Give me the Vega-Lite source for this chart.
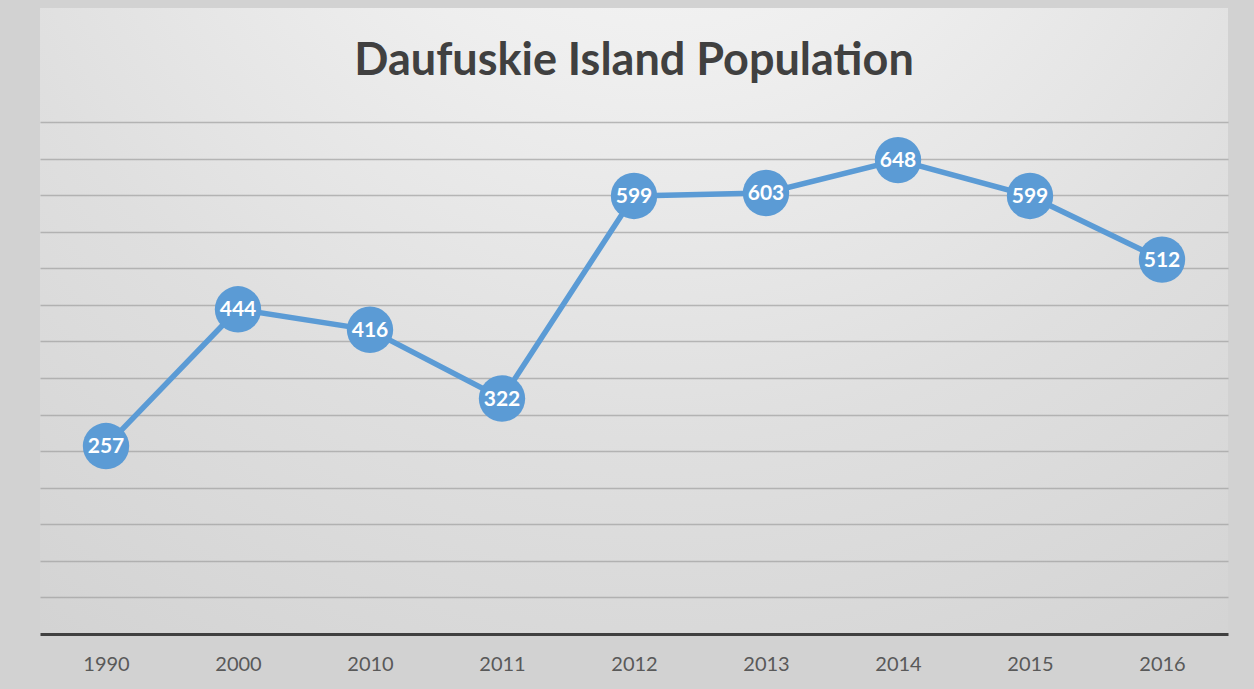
{
  "$schema": "https://vega.github.io/schema/vega-lite/v6.json",
  "width": 1188,
  "height": 626,
  "padding": {"left": 40, "top": 8, "right": 26, "bottom": 15},
  "background": "#d2d2d2",
  "view": {
    "stroke": null,
    "fill": {
      "gradient": "radial",
      "x1": 0.52, "y1": 0, "r1": 0,
      "x2": 0.52, "y2": 0, "r2": 1,
      "stops": [
        {"offset": 0, "color": "#fafafa"},
        {"offset": 0.3, "color": "#eeeeee"},
        {"offset": 0.6, "color": "#dfdfdf"},
        {"offset": 1, "color": "#d0d0d0"}
      ]
    }
  },
  "title": {
    "text": "Daufuskie Island Population",
    "frame": "group",
    "anchor": "middle",
    "orient": "top",
    "offset": -112,
    "baseline": "alphabetic",
    "font": "Lato",
    "fontSize": 45,
    "fontWeight": "bold",
    "color": "#404040"
  },
  "data": {
    "values": [
      {"year": "1990", "population": 257},
      {"year": "2000", "population": 444},
      {"year": "2010", "population": 416},
      {"year": "2011", "population": 322},
      {"year": "2012", "population": 599},
      {"year": "2013", "population": 603},
      {"year": "2014", "population": 648},
      {"year": "2015", "population": 599},
      {"year": "2016", "population": 512}
    ]
  },
  "encoding": {
    "x": {
      "field": "year",
      "type": "ordinal",
      "sort": null,
      "scale": {"type": "point", "padding": 0.5},
      "axis": {
        "title": null,
        "labelAngle": 0,
        "ticks": false,
        "grid": false,
        "domainColor": "#404040",
        "domainWidth": 3,
        "labelFont": "Lato",
        "labelFontSize": 20,
        "labelColor": "#595959",
        "labelPadding": 20
      }
    },
    "y": {
      "field": "population",
      "type": "quantitative",
      "scale": {"domain": [0, 856], "nice": false},
      "axis": {
        "title": null,
        "labels": false,
        "ticks": false,
        "domain": false,
        "values": [50, 100, 150, 200, 250, 300, 350, 400, 450, 500, 550, 600, 650, 700],
        "gridColor": "#a0a0a0",
        "gridOpacity": 0.7,
        "gridWidth": 1.5
      }
    }
  },
  "layer": [
    {"mark": {"type": "line", "color": "#5B9BD5", "strokeWidth": 5.5}},
    {"mark": {"type": "circle", "color": "#5B9BD5", "opacity": 1, "size": 2150}},
    {
      "mark": {"type": "text", "color": "white", "font": "Lato", "fontWeight": "bold", "fontSize": 21, "baseline": "middle", "dy": 1},
      "encoding": {"text": {"field": "population", "type": "quantitative"}}
    }
  ]
}
